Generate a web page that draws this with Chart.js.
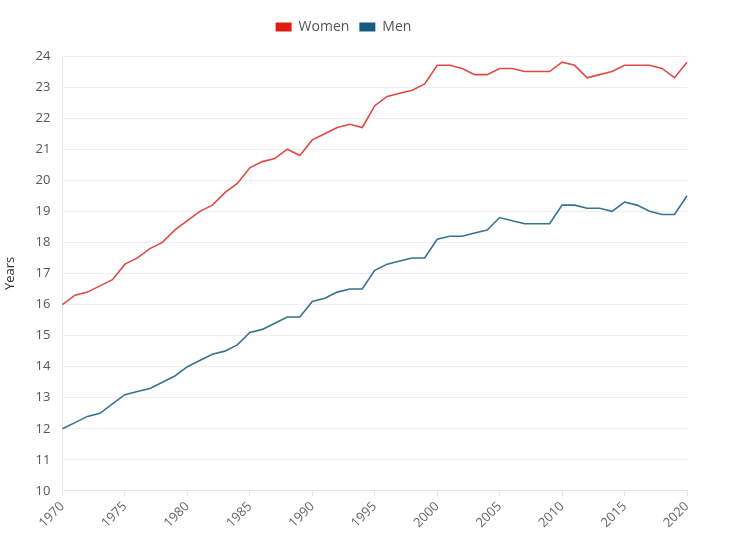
<!DOCTYPE html>
<html>
<head>
<meta charset="utf-8">
<script src="https://cdn.jsdelivr.net/npm/chart.js@4/dist/chart.umd.min.js"></script>
<style>
  html, body { margin: 0; padding: 0; background: #fff; }
  #wrap { width: 730px; height: 544px; }
</style>
</head>
<body>
<div id="wrap"><canvas id="chart"></canvas></div>
<script>
years = [];
for (let y = 1970; y <= 2020; y++) years.push(y);

women = [16.0, 16.3, 16.4, 16.6, 16.8, 17.3, 17.5, 17.8, 18.0, 18.4,
         18.7, 19.0, 19.2, 19.6, 19.9, 20.4, 20.6, 20.7, 21.0, 20.8,
         21.3, 21.5, 21.7, 21.8, 21.7, 22.4, 22.7, 22.8, 22.9, 23.1,
         23.7, 23.7, 23.6, 23.4, 23.4, 23.6, 23.6, 23.5, 23.5, 23.5,
         23.8, 23.7, 23.3, 23.4, 23.5, 23.7, 23.7, 23.7, 23.6, 23.3,
         23.8];

men = [12.0, 12.2, 12.4, 12.5, 12.8, 13.1, 13.2, 13.3, 13.5, 13.7,
       14.0, 14.2, 14.4, 14.5, 14.7, 15.1, 15.2, 15.4, 15.6, 15.6,
       16.1, 16.2, 16.4, 16.5, 16.5, 17.1, 17.3, 17.4, 17.5, 17.5,
       18.1, 18.2, 18.2, 18.3, 18.4, 18.8, 18.7, 18.6, 18.6, 18.6,
       19.2, 19.2, 19.1, 19.1, 19.0, 19.3, 19.2, 19.0, 18.9, 18.9,
       19.5];

FONT = "'Open Sans', sans-serif";

// a bit more room under the legend
legendGap = {
    id: 'legendGap',
    beforeInit(chart) {
        const fit = chart.legend.fit;
        chart.legend.fit = function () {
            fit.bind(chart.legend)();
            this.height += 12;
        };
    }
};

ctx = document.getElementById('chart');

chart = new Chart(ctx, {
    type: 'line',
    data: {
        labels: years,
        datasets: [{
            label: 'Women',
            data: women,
            borderColor: '#de4a45',
            backgroundColor: '#e01b12',
            borderWidth: 1.6,
            pointRadius: 0,
            tension: 0
        }, {
            label: 'Men',
            data: men,
            borderColor: '#357390',
            backgroundColor: '#165a82',
            borderWidth: 1.6,
            pointRadius: 0,
            tension: 0
        }]
    },
    options: {
        responsive: true,
        maintainAspectRatio: false,
        animation: false,
        layout: {
            padding: { left: 0, right: 43, top: 10, bottom: 10 }
        },
        scales: {
            x: {
                grid: {
                    drawOnChartArea: false,
                    color: '#e6e6e6',
                    tickLength: 5
                },
                border: { color: '#e6e6e6' },
                ticks: {
                    autoSkip: false,
                    maxRotation: 45,
                    minRotation: 45,
                    color: '#666',
                    font: { family: FONT, size: 13 },
                    callback: function (val, i) {
                        const y = years[i];
                        return y % 5 === 0 ? String(y) : null;
                    }
                }
            },
            y: {
                min: 10,
                max: 24,
                ticks: {
                    stepSize: 1,
                    padding: 12,
                    color: '#555',
                    font: { family: FONT, size: 13 }
                },
                grid: { color: '#eeeeee', drawTicks: false },
                border: { color: '#e6e6e6' },
                title: {
                    display: true,
                    text: 'Years',
                    color: '#333',
                    padding: { top: 2, bottom: 6 },
                    font: { family: FONT, size: 13 }
                }
            }
        },
        plugins: {
            legend: {
                labels: {
                    boxWidth: 16,
                    boxHeight: 9,
                    color: '#555',
                    font: { family: FONT, size: 14 },
                    generateLabels: function (c) {
                        return c.data.datasets.map((ds, i) => ({
                            text: ds.label,
                            fillStyle: ds.backgroundColor,
                            strokeStyle: ds.backgroundColor,
                            lineWidth: 0,
                            fontColor: '#555',
                            datasetIndex: i
                        }));
                    }
                }
            },
            tooltip: { enabled: false }
        }
    },
    plugins: [legendGap]
});
</script>
</body>
</html>
